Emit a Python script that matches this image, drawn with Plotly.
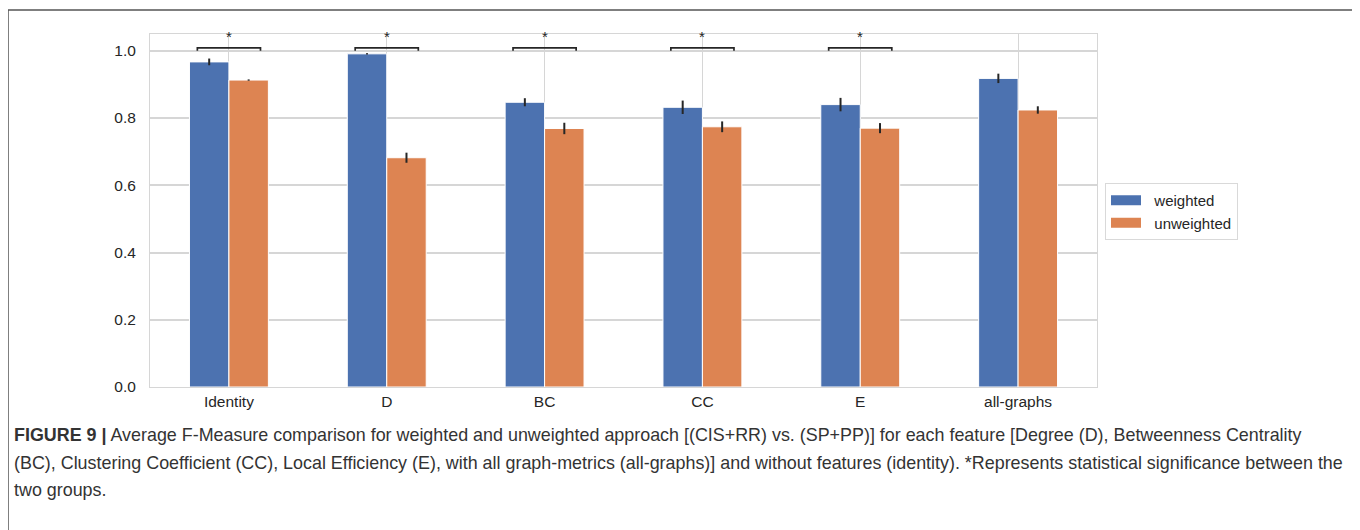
import plotly.graph_objects as go

categories = ["Identity", "D", "BC", "CC", "E", "all-graphs"]
weighted = [0.967, 0.991, 0.847, 0.832, 0.840, 0.918]
weighted_err = [0.010, 0.002, 0.012, 0.020, 0.020, 0.014]
unweighted = [0.913, 0.682, 0.769, 0.774, 0.770, 0.824]
unweighted_err = [0.002, 0.015, 0.017, 0.016, 0.015, 0.011]
significant = [True, True, True, True, True, False]
y_ticks = [0.0, 0.2, 0.4, 0.6, 0.8, 1.0]
series_names = ["weighted", "unweighted"]

caption_lines = [
    "<b>FIGURE 9 |</b> Average F-Measure comparison for weighted and unweighted approach [(CIS+RR) vs. (SP+PP)] for each feature [Degree (D), Betweenness Centrality",
    "(BC), Clustering Coefficient (CC), Local Efficiency (E), with all graph-metrics (all-graphs)] and without features (identity). *Represents statistical significance between the",
    "two groups.",
]

BLUE = "#4C72B0"
ORANGE = "#DD8452"
GRID = "#d6d6d6"
FONT = "Liberation Sans, Arial, sans-serif"

# page body has an 8px margin: work in screen px, convert with OFF
OFF = 8
x_idx = list(range(len(categories)))

fig = go.Figure()
for name, vals, errs, col in [(series_names[0], weighted, weighted_err, BLUE),
                              (series_names[1], unweighted, unweighted_err, ORANGE)]:
    fig.add_trace(go.Bar(
        x=x_idx, y=vals, name=name, showlegend=False,
        marker=dict(color=col, line=dict(color="white", width=1)),
        error_y=dict(type="data", array=errs, color="#262626", thickness=2, width=0),
    ))
# legend entries with wide rectangular swatches
for name, col in [(series_names[0], BLUE), (series_names[1], ORANGE)]:
    fig.add_trace(go.Scatter(x=[None], y=[None], mode="lines", name="\u00a0\u00a0" + name,
                             line=dict(color=col, width=10)))

# significance brackets
bracket_low, bracket_high, star_y, half = 1.0, 1.009, 1.043, 0.2
for i, sig in enumerate(significant):
    if not sig:
        continue
    fig.add_trace(go.Scatter(
        x=[i - half, i - half, i + half, i + half],
        y=[bracket_low, bracket_high, bracket_high, bracket_low],
        mode="lines", line=dict(color="#262626", width=1.7),
        showlegend=False, hoverinfo="skip", cliponaxis=False,
    ))
    fig.add_annotation(x=i, y=star_y, text="*", showarrow=False,
                       font=dict(size=15, color="#262626", family=FONT),
                       xref="x", yref="y")

L, R, T, B = 150 - OFF, 1097 - OFF, 34 - OFF, 387 - OFF
W, H = 1360 - OFF, 530 - OFF
pw, ph = R - L, B - T

def px_x(px):
    return (px - OFF - L) / pw

def px_y(py):
    return (B - (py - OFF)) / ph

for k, line in enumerate(caption_lines):
    fig.add_annotation(
        x=px_x(12), y=px_y(435 + k * 27.5),
        xref="paper", yref="paper", xanchor="left", yanchor="middle",
        text=line, showarrow=False, align="left",
        font=dict(size=17.9, color="#333333", family=FONT),
    )

# outer frame (left, top, right edges)
frame = dict(color="#555555", width=1.5)
fig.add_shape(type="line", xref="paper", yref="paper",
              x0=px_x(8), x1=px_x(8), y0=px_y(535), y1=px_y(10), line=frame)
fig.add_shape(type="line", xref="paper", yref="paper",
              x0=px_x(8), x1=px_x(1355), y0=px_y(10), y1=px_y(10), line=frame)
fig.add_shape(type="line", xref="paper", yref="paper",
              x0=px_x(1355), x1=px_x(1355), y0=px_y(535), y1=px_y(10), line=frame)

fig.update_layout(
    width=W, height=H,
    margin=dict(l=L, r=W - R, t=T, b=H - B, autoexpand=False),
    barmode="group", bargap=0.5, bargroupgap=0,
    plot_bgcolor="white", paper_bgcolor="white",
    font=dict(family=FONT, size=15, color="#262626"),
    legend=dict(x=px_x(1105), y=px_y(183), xanchor="left", yanchor="top",
                bordercolor="#d9d9d9", borderwidth=1, font=dict(size=15, color="#262626"),
                traceorder="normal", tracegroupgap=0),
    showlegend=True,
)
fig.update_xaxes(
    range=[-0.5, len(categories) - 0.5], tickmode="array", tickvals=x_idx, ticktext=categories,
    showgrid=True, gridcolor=GRID, gridwidth=1, showline=True, linecolor=GRID, mirror=True,
    ticks="", zeroline=False, tickfont=dict(size=15.5, color="#262626"),
)
fig.update_yaxes(
    range=[0, 1.05], tickmode="array", tickvals=y_ticks, ticktext=[f"{v:.1f}" for v in y_ticks],
    showgrid=True, gridcolor=GRID, gridwidth=1.5, showline=True, linecolor=GRID, mirror=True,
    ticks="", zeroline=False, tickfont=dict(size=15.5, color="#262626"), ticklabelstandoff=10,
)

fig.write_html("out.html")
